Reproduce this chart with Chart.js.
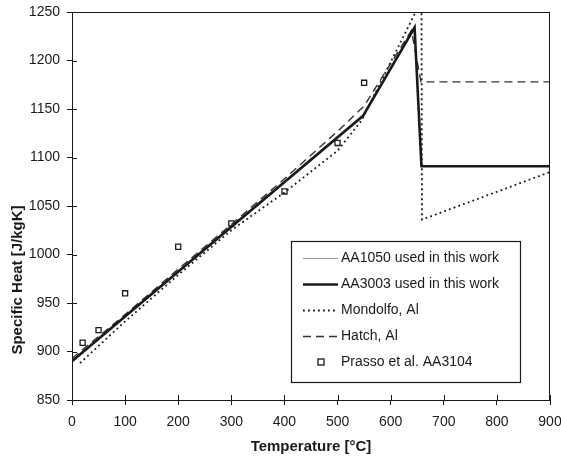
<!DOCTYPE html>
<html>
<head>
<meta charset="utf-8">
<script src="https://cdn.jsdelivr.net/npm/chart.js@4.4.0/dist/chart.umd.min.js"></script>
<style>
  html, body { margin: 0; padding: 0; background: #fff; }
  #wrap { width: 561px; height: 459px; position: relative; }
</style>
</head>
<body>
<div id="wrap"><canvas id="c" width="561" height="459"></canvas></div>
<script>
// ---- data ----
const xTickValues = [0, 100, 200, 300, 400, 500, 600, 700, 800, 900];
const yTickValues = [850, 900, 950, 1000, 1050, 1100, 1150, 1200, 1250];

const aa1050T  = [0, 548, 645, 658, 900];
const aa1050Cp = [890, 1143, 1234, 1091, 1091];

const aa3003T  = [0, 548, 645, 658, 900];
const aa3003Cp = [890, 1143, 1234, 1091, 1091];

const mondolfoT  = [15, 100, 200, 300, 400, 500, 545, 658, 659, 900];
const mondolfoCp = [888, 931, 979, 1025, 1064, 1107, 1138, 1262, 1036, 1085];

const hatchT  = [0, 100, 200, 300, 400, 500, 550, 639, 657, 900];
const hatchCp = [893, 938, 985, 1031, 1078, 1127, 1153, 1231, 1178, 1178];

const prassoT  = [20, 50, 100, 200, 300, 400, 500, 550];
const prassoCp = [909, 922, 960, 1008, 1032, 1065, 1115, 1177];

const seriesLabels = ['AA1050 used in this work', 'AA3003 used in this work', 'Mondolfo, Al', 'Hatch, Al', 'Prasso et al. AA3104'];
const xTitle = 'Temperature [°C]';
const yTitle = 'Specific Heat [J/kgK]';

const pts = (xs, ys) => xs.map((x, i) => ({ x: x, y: ys[i] }));
const FONT = '"Liberation Sans", Arial, Helvetica, sans-serif';
const INK = '#1a1a1a';

const datasets = [
  { label: seriesLabels[0], data: pts(aa1050T, aa1050Cp), borderColor: '#9a9a9a', borderWidth: 1, pointRadius: 0, showLine: true, order: 5 },
  { label: seriesLabels[1], data: pts(aa3003T, aa3003Cp), borderColor: INK, borderWidth: 2.6, pointRadius: 0, showLine: true, order: 1 },
  { label: seriesLabels[2], data: pts(mondolfoT, mondolfoCp), borderColor: INK, borderWidth: 1.8, borderDash: [1.8, 3.2], pointRadius: 0, showLine: true, order: 3 },
  { label: seriesLabels[3], data: pts(hatchT, hatchCp), borderColor: '#333', borderWidth: 1.4, borderDash: [8, 5], pointRadius: 0, showLine: true, order: 2 },
  { label: seriesLabels[4], data: pts(prassoT, prassoCp), borderColor: INK, borderWidth: 1.3, backgroundColor: 'rgba(255,255,255,0)', pointStyle: 'rect', pointRadius: 3.6, showLine: false, order: 0 }
];

const decor = {
  id: 'decor',
  afterDraw(chart) {
    const ctx = chart.ctx;
    const a = chart.chartArea;
    const xs = chart.scales.x, ys = chart.scales.y;
    ctx.save();
    // frame
    ctx.strokeStyle = INK;
    ctx.lineWidth = 1;
    ctx.strokeRect(a.left + 0.5, a.top + 0.5, a.right - a.left - 1, a.bottom - a.top);
    // inner tick marks (ticks cross the axes)
    ctx.beginPath();
    xTickValues.forEach(v => {
      const px = Math.round(xs.getPixelForValue(v)) + 0.5;
      ctx.moveTo(px, a.bottom); ctx.lineTo(px, a.bottom - 5);
    });
    yTickValues.forEach(v => {
      const py = Math.round(ys.getPixelForValue(v)) + 0.5;
      ctx.moveTo(a.left, py); ctx.lineTo(a.left + 5, py);
    });
    ctx.stroke();

    // axis titles
    ctx.fillStyle = INK;
    ctx.font = 'bold 15px ' + FONT;
    ctx.textAlign = 'center';
    ctx.textBaseline = 'middle';
    ctx.fillText(xTitle, (a.left + a.right) / 2, 447);
    ctx.save();
    ctx.translate(17.5, 280);
    ctx.rotate(-Math.PI / 2);
    ctx.fillText(yTitle, 0, 0);
    ctx.restore();

    // legend box
    const bx = 291, by = 241, bw = 229, bh = 141;
    ctx.fillStyle = '#fff';
    ctx.fillRect(bx, by, bw, bh);
    ctx.strokeStyle = INK;
    ctx.lineWidth = 1.2;
    ctx.strokeRect(bx + 0.5, by + 0.5, bw, bh);
    const rows = [258, 284, 310, 336, 362];
    const x0 = 303, x1 = 338, tx = 341;
    ctx.font = '14px ' + FONT;
    ctx.textAlign = 'left';
    ctx.textBaseline = 'middle';
    chart.data.datasets.forEach((ds, i) => {
      const y = rows[i];
      ctx.save();
      if (ds.showLine) {
        ctx.strokeStyle = ds.borderColor;
        ctx.lineWidth = ds.borderWidth;
        ctx.setLineDash(ds.borderDash || []);
        ctx.beginPath();
        ctx.moveTo(x0, y + 0.5); ctx.lineTo(x1, y + 0.5);
        ctx.stroke();
      } else {
        ctx.strokeStyle = ds.borderColor;
        ctx.lineWidth = ds.borderWidth;
        ctx.strokeRect(318, y - 3, 6, 6);
      }
      ctx.restore();
      ctx.fillStyle = INK;
      ctx.fillText(ds.label, tx, y);
    });
    ctx.restore();
  }
};

new Chart(document.getElementById('c'), {
  type: 'scatter',
  data: { datasets: datasets },
  options: {
    responsive: false,
    animation: false,
    devicePixelRatio: 1,
    layout: { padding: { top: 12, right: 11, left: 0, bottom: 0 } },
    plugins: { legend: { display: false }, tooltip: { enabled: false } },
    scales: {
      x: {
        type: 'linear', min: 0, max: 900,
        afterBuildTicks: s => { s.ticks = xTickValues.map(v => ({ value: v })); },
        afterFit: s => { s.height = 59; s.paddingLeft = 0; s.paddingRight = 0; },
        ticks: { color: INK, font: { family: FONT, size: 14 }, padding: 9, maxRotation: 0, autoSkip: false, callback: v => String(v) },
        grid: { drawOnChartArea: false, drawTicks: true, tickLength: 5, color: INK, tickWidth: 1 },
        border: { color: INK, width: 1 }
      },
      y: {
        type: 'linear', min: 850, max: 1250,
        afterBuildTicks: s => { s.ticks = yTickValues.map(v => ({ value: v })); },
        afterFit: s => { s.width = 72; s.paddingTop = 0; s.paddingBottom = 0; },
        ticks: { color: INK, font: { family: FONT, size: 14 }, padding: 7, autoSkip: false, callback: v => String(v) },
        grid: { drawOnChartArea: false, drawTicks: true, tickLength: 5, color: INK, tickWidth: 1 },
        border: { color: INK, width: 1 }
      }
    }
  },
  plugins: [decor]
});
</script>
</body>
</html>
